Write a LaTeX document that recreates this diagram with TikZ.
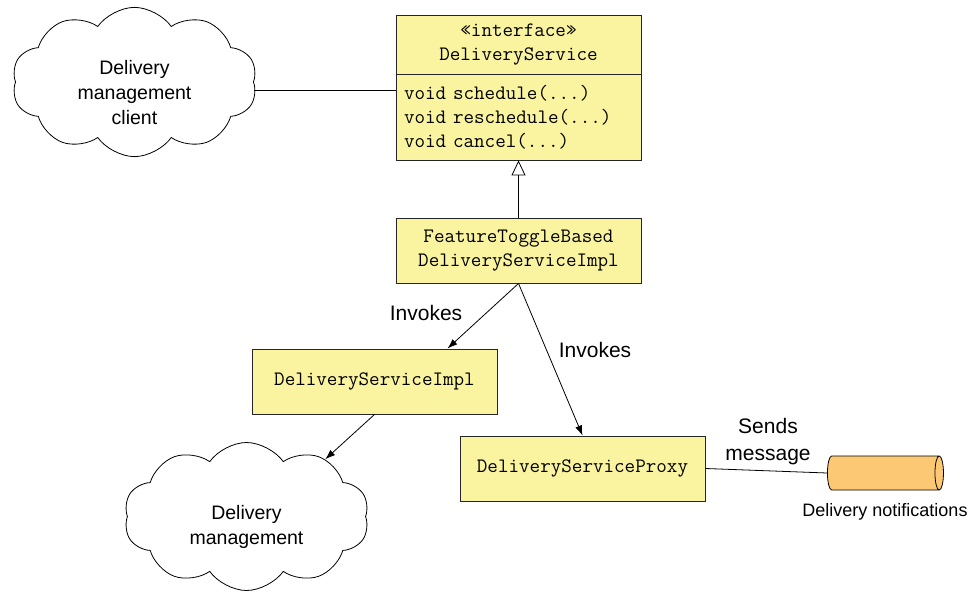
\documentclass[tikz,border=0pt]{standalone}
\usepackage{fontspec}
\setmainfont{Liberation Sans}
\usetikzlibrary{shapes.geometric, shapes.symbols, arrows.meta, positioning}

\definecolor{classyellow}{RGB}{250,244,160}
\definecolor{queueorange}{RGB}{253,200,115}

\begin{document}
\begin{tikzpicture}[x=1pt, y=-1pt,
    cls/.style={draw=black!85, fill=classyellow, line width=0.9pt, minimum width=245pt, inner sep=0pt, font=\fontsize{20.5}{24}\ttfamily, align=center},
    cloudy/.style={cloud, draw, cloud puffs=10, cloud puff arc=110, aspect=1.7, minimum width=245pt, minimum height=148pt, inner sep=0pt, font=\fontsize{19.5}{25}\selectfont, align=center, line width=0.8pt},
    lbl/.style={font=\fontsize{21}{27}\selectfont, align=center},
    invokes/.style={-{Latex[length=10pt, width=7pt]}, line width=0.8pt}]

    \useasboundingbox (0,0) rectangle (976,591);

    % interface with its two compartments
    \node[cls, minimum height=59pt] (ifhead) at (518.5,44.5) {«interface»\\DeliveryService};
    \node[cls, minimum height=86pt, align=left, text width=229pt] (ifbody) at (518.5,117) {void schedule(...)\\void reschedule(...)\\void cancel(...)};

    \node[cls, minimum height=65pt] (ft) at (518.5,250.5) {FeatureToggleBased\\DeliveryServiceImpl};
    \node[cls, minimum height=65pt] (impl) at (374.5,381.5) {DeliveryServiceImpl};
    \node[cls, minimum height=65pt] (proxy) at (582.5,468.5) {DeliveryServiceProxy};

    \node[cloudy, text height=86pt] (client) at (134.5,82) {Delivery\\management\\client};
    \node[cloudy, text height=60pt] (mgmt) at (246.5,516.5) {Delivery\\management};

    \node[cylinder, draw, fill=queueorange, minimum height=116pt, aspect=0.25, inner xsep=0pt, inner ysep=17pt, line width=0.8pt] (queue) at (881,473) {};
    \node[font=\fontsize{18}{20}\selectfont] (notif) at (885,512) {Delivery notifications};

    \node[lbl] (inv1) at (426,313) {Invokes};
    \node[lbl] (inv2) at (595,350) {Invokes};
    \node[lbl] (sends) at (768,442) {Sends\\message};

    \draw[line width=0.8pt] ([yshift=-8pt]client.east) -- ([yshift=-8pt]client.east -| ifbody.west);
    \draw[line width=0.8pt, -{Triangle[open, length=15pt, width=14pt]}] (ft.north) -- (ifbody.south);
    \draw[invokes] (ft.south) -- ([xshift=73pt]impl.north);
    \draw[invokes] (ft.south) -- (proxy.north);
    \draw[invokes] (impl.south) -- (mgmt.36);
    \draw[line width=0.8pt] (proxy.east) -- (queue.west);
\end{tikzpicture}
\end{document}
